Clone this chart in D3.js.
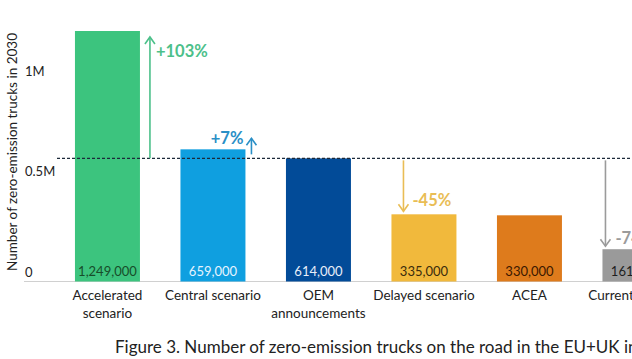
<!DOCTYPE html>
<html><head><meta charset="utf-8">
<script src="https://cdn.jsdelivr.net/npm/d3@7"></script>
<style>
html,body{margin:0;padding:0;background:#fff;overflow:hidden}
svg{display:block;font-family:"Source Sans Pro","Lato",sans-serif}
</style></head><body>
<svg id="c" width="632" height="359"></svg>
<script>
const categories = [["Accelerated","scenario"],["Central scenario"],["OEM","announcements"],["Delayed scenario"],["ACEA"],["Current policies"]];
const values = [1249000, 659000, 614000, 335000, 330000, 161000];
const valueLabels = ["1,249,000","659,000","614,000","335,000","330,000","161,000"];
const barColors = ["#3cc47e","#0f9fe0","#024b98","#f1b93c","#de7b1c","#9a9a9a"];
const labelColors = ["#174d2a","#e6f4ff","#e8eef8","#3b2c0c","#3a1800","#1e1e1e"];
const yTicks = [0, 500000, 1000000];
const yTickLabels = ["0","0.5M","1M"];
const referenceValue = 614000;
const changes = ["+103%","+7%",null,"-45%",null,"-74%"];
const changeColors = ["#4cc08a","#2a8fc6",null,"#e9bd55",null,"#9b9b9b"];
const yTitle = "Number of zero-emission trucks in 2030";
const title = "Figure 3. Number of zero-emission trucks on the road in the EU+UK in 2030";

const svg = d3.select("#c");
const idx = d3.range(values.length);
const x = d3.scaleBand().domain(idx).range([54.7, 687.7]).paddingInner(0.384).paddingOuter(0.192);
const y = d3.scaleLinear().domain([0, 1249000]).range([281.5, 31]);

// baseline
svg.append("line").attr("x1",24).attr("x2",632).attr("y1",y(0)).attr("y2",y(0))
  .attr("stroke","#d0d0d0").attr("stroke-width",1);

// y tick labels
svg.selectAll("text.tick").data(yTicks).join("text").attr("class","tick")
  .attr("x",25).attr("y",d=>y(d)-5).attr("font-size",13).attr("fill","#222")
  .text((d,i)=>yTickLabels[i]);

// y title
svg.append("text").attr("transform","translate(17,152) rotate(-90)")
  .attr("text-anchor","middle").attr("font-size",13.5).attr("fill","#222").text(yTitle);

// bars
svg.selectAll("rect.bar").data(idx).join("rect").attr("class","bar")
  .attr("x",i=>x(i)).attr("width",x.bandwidth())
  .attr("y",i=>y(values[i])).attr("height",i=>y(0)-y(values[i]))
  .attr("fill",i=>barColors[i]);

// reference dashed line
svg.append("line").attr("x1",57).attr("x2",632).attr("y1",y(referenceValue)).attr("y2",y(referenceValue))
  .attr("stroke","#1c2a3a").attr("stroke-width",1.3).attr("stroke-dasharray","3,2");

// value labels
svg.selectAll("text.val").data(idx).join("text").attr("class","val")
  .attr("x",i=>x(i)+x.bandwidth()/2).attr("y",276).attr("text-anchor","middle")
  .attr("font-size",13).attr("fill",i=>labelColors[i]).text(i=>valueLabels[i]);

// category labels
const cat = svg.selectAll("text.cat").data(idx).join("text").attr("class","cat")
  .attr("text-anchor","middle").attr("font-size",13.5).attr("fill","#222");
cat.each(function(i){
  categories[i].forEach((line,k)=>{
    d3.select(this).append("tspan").attr("x",x(i)+x.bandwidth()/2).attr("y",300+k*18).text(line);
  });
});

// change annotations
const ann = [
  {i:0, ax:()=>x(0)+x.bandwidth()+10, y1:()=>y(referenceValue), y2:()=>y(values[0])+6, tx:6, ty:()=>y(values[0])+26, anchor:"start"},
  {i:1, ax:()=>x(1)+x.bandwidth()+6, y1:()=>y(referenceValue)-4, y2:()=>y(values[1])-11, tx:-8, ty:()=>y(values[1])-5, anchor:"end"},
  {i:3, ax:()=>x(3)+12, y1:()=>y(referenceValue)+2, y2:()=>y(values[3])-3, tx:9, ty:()=>y(values[3])-8, anchor:"start"},
  {i:5, ax:()=>x(5)+3, y1:()=>y(referenceValue)+2, y2:()=>y(values[5])-3, tx:10, ty:()=>y(values[5])-5, anchor:"start"}
];
ann.forEach(a=>{
  const c = changeColors[a.i];
  const ax = a.ax(), y1 = a.y1(), y2 = a.y2();
  const dir = y2 < y1 ? 1 : -1;
  svg.append("line").attr("x1",ax).attr("x2",ax).attr("y1",y1).attr("y2",y2)
    .attr("stroke",c).attr("stroke-width",1.6);
  svg.append("path").attr("d",`M${ax-5},${y2+7*dir} L${ax},${y2} L${ax+5},${y2+7*dir}`)
    .attr("fill","none").attr("stroke",c).attr("stroke-width",1.6);
  svg.append("text").attr("x",ax+a.tx).attr("y",a.ty()).attr("text-anchor",a.anchor)
    .attr("font-size",16.5).attr("font-weight","bold").attr("fill",c).text(changes[a.i]);
});

// title
svg.append("text").attr("x",115).attr("y",353).attr("font-size",17).attr("fill","#222").text(title);
</script>
</body></html>
